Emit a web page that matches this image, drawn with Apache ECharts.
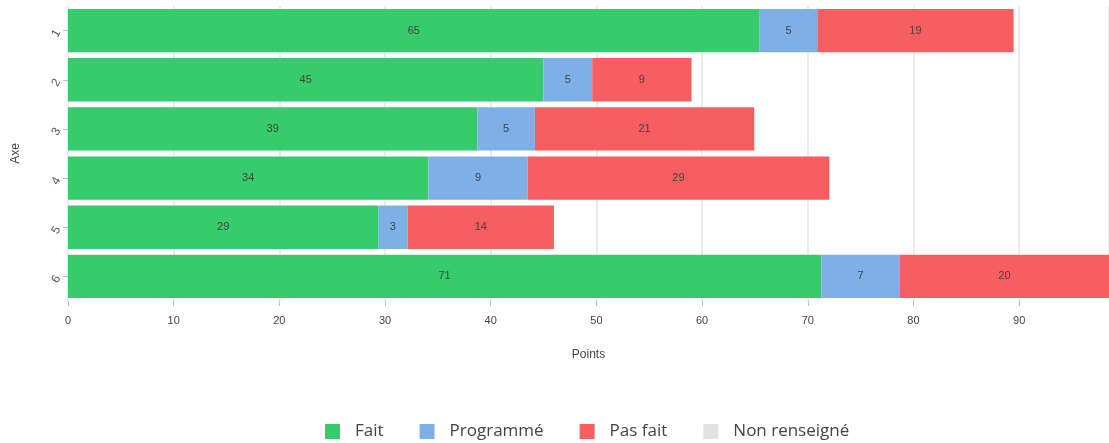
<!DOCTYPE html>
<html>
<head>
<meta charset="utf-8">
<script src="https://cdn.jsdelivr.net/npm/echarts@6/dist/echarts.min.js"></script>
<style>
  html, body { margin: 0; padding: 0; background: #fff; }
  #main { width: 1109px; height: 443px; }
</style>
</head>
<body>
<div id="main"></div>
<script>
var axes = ['1', '2', '3', '4', '5', '6'];
var fait = [65.45, 44.97, 38.73, 34.09, 29.36, 71.27];
var programme = [5.45, 4.63, 5.45, 9.4, 2.77, 7.45];
var pasFait = [18.57, 9.4, 20.75, 28.55, 13.85, 19.78];
var nonRenseigne = [0, 0, 0, 0, 0, 0];

var chart = echarts.init(document.getElementById('main'));

function barLabel() {
  return {
    show: true,
    position: 'inside',
    color: '#444',
    fontSize: 11,
    fontFamily: 'Liberation Sans, Arial, sans-serif',
    formatter: function (p) {
      return p.value ? Math.round(p.value) : '';
    }
  };
}

function mkSeries(name, data, color) {
  return {
    name: name,
    type: 'bar',
    stack: 'total',
    barCategoryGap: '12%',
    data: data,
    itemStyle: { color: color },
    label: barLabel()
  };
}

var option = {
  animation: false,
  grid: { left: 68, right: 0, top: 6, bottom: 142, containLabel: false },
  legend: {
    bottom: -2,
    left: 320,
    itemWidth: 15,
    itemHeight: 15,
    itemGap: 36,
    icon: 'rect',
    textStyle: { fontSize: 17, color: '#444', fontFamily: 'Open Sans', padding: [0, 0, 0, 10] },
    data: ['Fait', 'Programmé', 'Pas fait', 'Non renseigné']
  },
  xAxis: {
    type: 'value',
    min: 0,
    max: 98.5,
    interval: 10,
    name: 'Points',
    nameLocation: 'middle',
    nameGap: 48,
    nameTextStyle: { color: '#444', fontSize: 12, fontFamily: 'Liberation Sans, Arial' },
    axisLine: { show: false },
    axisTick: { show: true, length: 5, lineStyle: { color: '#bbb' } },
    axisLabel: { color: '#444', fontSize: 11, margin: 14, showMaxLabel: false, fontFamily: 'Liberation Sans, Arial' },
    splitLine: { show: true, lineStyle: { color: '#ebebeb', width: 2 } }
  },
  yAxis: {
    type: 'category',
    data: axes,
    inverse: true,
    name: 'Axe',
    nameLocation: 'middle',
    nameGap: 46,
    nameRotate: 90,
    nameTextStyle: { color: '#444', fontSize: 12, fontFamily: 'Liberation Sans, Arial' },
    axisLine: { show: false },
    axisTick: { show: true, length: 5, alignWithLabel: true, lineStyle: { color: '#bbb' } },
    axisLabel: { color: '#555', fontSize: 12, rotate: 60, margin: 10, fontFamily: 'Liberation Sans, Arial' },
    splitLine: { show: false }
  },
  series: [
    mkSeries('Fait', fait, '#36cb6d'),
    mkSeries('Programmé', programme, '#7eb0e7'),
    mkSeries('Pas fait', pasFait, '#f85d61'),
    mkSeries('Non renseigné', nonRenseigne, '#e2e2e2')
  ]
};

chart.setOption(option);
</script>
</body>
</html>
